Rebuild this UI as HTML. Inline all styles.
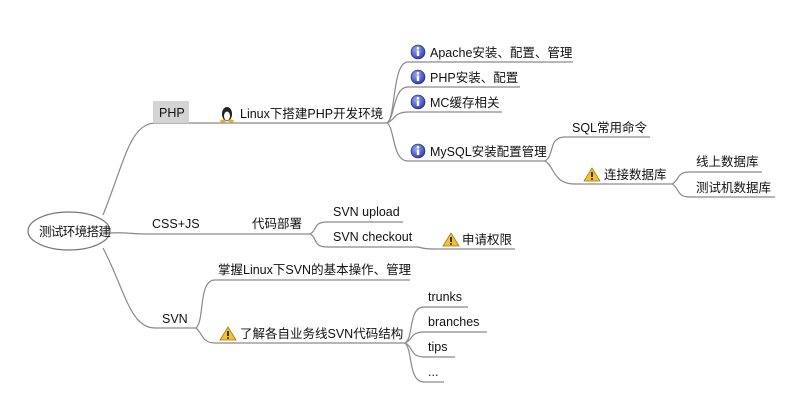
<!DOCTYPE html>
<html><head><meta charset="utf-8"><style>
body{margin:0;background:#fff}
svg text{font-family:"Liberation Sans","Noto Sans CJK SC",sans-serif;font-size:12.5px;fill:#111}
</style></head><body>
<svg width="798" height="406" xmlns="http://www.w3.org/2000/svg">
<defs>
<radialGradient id="ig" cx="40%" cy="35%" r="70%"><stop offset="0" stop-color="#9aa8ff"/><stop offset="1" stop-color="#2a35b8"/></radialGradient>
<g id="info"><circle cx="0" cy="0" r="7" fill="url(#ig)" stroke="#223" stroke-width="0.6"/><rect x="-1.2" y="-1.5" width="2.4" height="5.5" fill="#fff"/><circle cx="0" cy="-3.8" r="1.3" fill="#fff"/></g>
<g id="warn"><path d="M0,-7 L8,6 L-8,6 Z" fill="#f4c22b" stroke="#a07a10" stroke-width="0.8"/><rect x="-0.9" y="-3" width="1.8" height="5" fill="#222"/><rect x="-0.9" y="3.2" width="1.8" height="1.6" fill="#222"/></g>
</defs>
<g fill="none" stroke="#8a8a8a" stroke-width="1.2">
<ellipse cx="69" cy="231" rx="41" ry="19" stroke="#777"/>
<path d="M103,215 C125,160 130,124 155,123 L387,123"/>
<path d="M387,123 C396,118 392,62 408,62 L573,62"/>
<path d="M387,123 C395,118 393,87 408,87 L520,87"/>
<path d="M387,123 C395,120 394,112 408,112 L502,112"/>
<path d="M387,123 C395,128 392,161 408,161 L545,161"/>
<path d="M545,161 C555,155 548,137 565,137 L650,137"/>
<path d="M545,161 C555,167 553,184 575,184 L672,184"/>
<path d="M672,184 C680,180 676,172 690,172 L762,172"/>
<path d="M672,184 C680,188 676,197 690,197 L775,197"/>
<path d="M110,233 C125,232 130,234 150,234 L310,234"/>
<path d="M310,234 C318,230 312,222 328,222 L403,222"/>
<path d="M310,234 C318,238 312,247 328,247 L418,247"/>
<path d="M418,247 C425,249 428,249 440,249 L515,249"/>
<path d="M103,248 C125,290 130,328 155,328 L196,328"/>
<path d="M196,328 C205,320 198,280 215,280 L410,280"/>
<path d="M196,328 C203,334 202,343 215,343 L405,343"/>
<path d="M405,343 C414,338 408,307 424,307 L468,307"/>
<path d="M405,343 C413,340 410,332 424,332 L487,332"/>
<path d="M405,343 C413,346 410,357 424,357 L455,357"/>
<path d="M405,343 C413,350 408,382 424,382 L444,382"/>
</g>
<text x="39" y="236" style="font-size:12.5px" textLength="72">测试环境搭建</text>
<rect x="153" y="101" width="36" height="22" fill="#d4d4d4"/>
<text x="159" y="117">PHP</text>
<g transform="translate(227,113)"><ellipse cx="0" cy="1" rx="5" ry="7" fill="#222"/><ellipse cx="0" cy="3" rx="3" ry="4.5" fill="#fff"/><ellipse cx="-4" cy="8" rx="3" ry="1.5" fill="#e8b020"/><ellipse cx="4" cy="8" rx="3" ry="1.5" fill="#e8b020"/></g>
<text x="240" y="118">Linux下搭建PHP开发环境</text>
<use href="#info" x="418" y="52"/><text x="430" y="57">Apache安装、配置、管理</text>
<use href="#info" x="418" y="77"/><text x="430" y="82">PHP安装、配置</text>
<use href="#info" x="418" y="102"/><text x="430" y="107">MC缓存相关</text>
<use href="#info" x="418" y="151"/><text x="430" y="156">MySQL安装配置管理</text>
<text x="572" y="132">SQL常用命令</text>
<use href="#warn" x="592" y="175"/><text x="604" y="179">连接数据库</text>
<text x="696" y="166">线上数据库</text>
<text x="696" y="192">测试机数据库</text>
<text x="152" y="228">CSS+JS</text>
<text x="252" y="228">代码部署</text>
<text x="333" y="216">SVN upload</text>
<text x="333" y="241">SVN checkout</text>
<use href="#warn" x="451" y="240"/><text x="462" y="244">申请权限</text>
<text x="162" y="323">SVN</text>
<text x="218" y="274">掌握Linux下SVN的基本操作、管理</text>
<use href="#warn" x="228" y="334"/><text x="240" y="338">了解各自业务线SVN代码结构</text>
<text x="428" y="301">trunks</text>
<text x="428" y="326">branches</text>
<text x="428" y="351">tips</text>
<text x="428" y="376">...</text>
</svg>
</body></html>
